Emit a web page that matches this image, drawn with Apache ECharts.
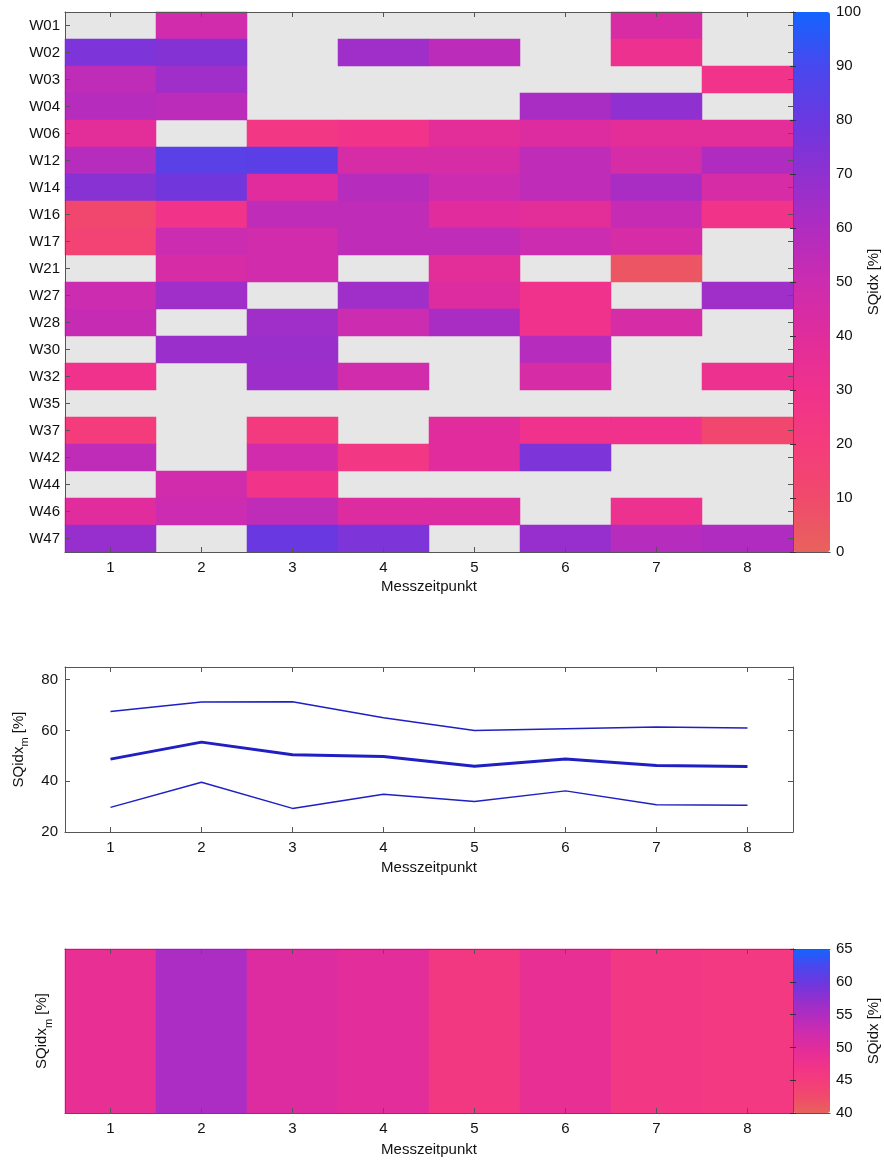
<!DOCTYPE html>
<html>
<head>
<meta charset="utf-8">
<script src="https://cdn.jsdelivr.net/npm/echarts@6/dist/echarts.min.js"></script>
<style>
html,body{margin:0;padding:0;background:#fff;}
#chart{width:884px;height:1162px;}
</style>
</head>
<body>
<div id="chart"></div>
<script>
// ---------- data ----------
const timepoints = ['1', '2', '3', '4', '5', '6', '7', '8'];
const wells = ['W01','W02','W03','W04','W06','W12','W14','W16','W17','W21','W27','W28','W30','W32','W35','W37','W42','W44','W46','W47'];
// SQidx [%] per well (rows) and measurement time point (columns); null = no data
const sqidx = [
  [null, 48, null, null, null, null, 44, null],   // W01
  [75, 73, null, 65, 56, null, 32, null],         // W02
  [55, 65, null, null, null, null, null, 28],     // W03
  [58, 56, null, null, null, 62, 70, null],       // W04
  [38, null, 25, 28, 38, 42, 38, 38],             // W06
  [58, 85, 84, 45, 45, 55, 45, 60],               // W12
  [72, 78, 40, 58, 50, 55, 62, 45],               // W14
  [12, 28, 55, 55, 40, 38, 52, 28],               // W16
  [15, 50, 48, 55, 55, 50, 45, null],             // W17
  [null, 45, 48, null, 38, null, 5, null],        // W21
  [50, 65, null, 65, 42, 30, null, 65],           // W27
  [52, null, 65, 50, 62, 30, 45, null],           // W28
  [null, 67, 67, null, null, 58, null, null],     // W30
  [30, null, 66, 48, null, 45, null, 32],         // W32
  [null, null, null, null, null, null, null, null], // W35
  [20, null, 22, null, 40, 30, 30, 12],           // W37
  [55, null, 48, 25, 40, 75, null, null],         // W42
  [null, 48, 28, null, null, null, null, null],   // W44
  [40, 50, 55, 42, 42, null, 32, null],           // W46
  [68, null, 80, 75, null, 68, 58, 60]            // W47
];
// SQidx_m [%] per time point
const sqidxUpper = [67.5, 71.2, 71.3, 65.0, 60.0, 60.7, 61.4, 61.0];
const sqidxMean  = [48.7, 55.4, 50.4, 49.7, 45.9, 48.8, 46.2, 45.8];
const sqidxLower = [29.7, 39.6, 29.3, 34.9, 32.0, 36.2, 30.7, 30.5];

// ---------- styles ----------
const FONT = "'Liberation Sans', Arial, sans-serif";
const AX = '#555';
const TXT = '#111';
const LINE_BLUE = '#1f1fc4';
const cmap = ['#e8625c','#f04a6c','#f43c7c','#f0328c','#e02c9c','#cc2cb0','#b02cc0','#9030d0','#6a38e0','#4848ee','#1464ff'];

const heatData = [];
sqidx.forEach((row, i) => row.forEach((v, j) => { if (v !== null) heatData.push([j, i, v]); }));
const meanHeatData = sqidxMean.map((v, j) => [j, 0, v]);

const lineAxisStyle = { show: true, lineStyle: { color: AX, width: 1 } };
const tickIn = (len) => ({ show: true, inside: true, length: len, alignWithLabel: true, lineStyle: { color: AX } });
const noLabel = { show: false };
const noSplit = { show: false };
const labelStyle = (m) => ({ color: TXT, fontSize: 15, fontFamily: FONT, margin: m });
const nameStyle = { color: TXT, fontSize: 15, fontFamily: FONT };
const subName = '{a|SQidx}{s|m}{a| [%]}';
const subRich = {
  a: { fontSize: 15, fontFamily: FONT, color: TXT, lineHeight: 24 },
  s: { fontSize: 11, fontFamily: FONT, color: TXT, lineHeight: 24, verticalAlign: 'bottom' }
};

function catX(grid, pos, withLabel, extra) {
  return Object.assign({
    gridIndex: grid, type: 'category', data: timepoints, position: pos,
    axisLine: lineAxisStyle, axisTick: tickIn(5),
    axisLabel: withLabel ? labelStyle(8) : noLabel, splitLine: noSplit, z: 10
  }, extra || {});
}
function edgeX(grid, pos) {
  return { gridIndex: grid, type: 'value', min: 0, max: 1, position: pos,
    axisLine: lineAxisStyle, axisTick: { show: false }, axisLabel: noLabel, splitLine: noSplit, z: 10 };
}

const option = {
  animation: false,
  backgroundColor: '#ffffff',
  textStyle: { fontFamily: FONT },
  grid: [
    { left: 65, top: 12, width: 728, height: 540, show: true, backgroundColor: '#e6e6e6', borderWidth: 0 },
    { left: 793, top: 12, width: 37, height: 540 },
    { left: 65, top: 667, width: 728, height: 165 },
    { left: 65, top: 949, width: 728, height: 164, show: true, backgroundColor: '#e6e6e6', borderWidth: 0 },
    { left: 793, top: 949, width: 37, height: 164 }
  ],
  xAxis: [
    catX(0, 'bottom', true, { name: 'Messzeitpunkt', nameLocation: 'middle', nameGap: 27, nameTextStyle: nameStyle }),
    catX(0, 'top', false),
    edgeX(1, 'bottom'),
    edgeX(1, 'top'),
    catX(2, 'bottom', true, { name: 'Messzeitpunkt', nameLocation: 'middle', nameGap: 28, nameTextStyle: nameStyle }),
    catX(2, 'top', false),
    catX(3, 'bottom', true, { name: 'Messzeitpunkt', nameLocation: 'middle', nameGap: 29, nameTextStyle: nameStyle }),
    catX(3, 'top', false),
    edgeX(4, 'bottom'),
    edgeX(4, 'top')
  ],
  yAxis: [
    { gridIndex: 0, type: 'category', data: wells, inverse: true, position: 'left',
      axisLine: lineAxisStyle, axisTick: tickIn(5), axisLabel: labelStyle(5), splitLine: noSplit, z: 10 },
    { gridIndex: 0, type: 'category', data: wells, inverse: true, position: 'right',
      axisLine: { show: false }, axisTick: tickIn(5), axisLabel: noLabel, splitLine: noSplit, z: 10 },
    { gridIndex: 1, type: 'value', min: 0, max: 100, interval: 10, position: 'right',
      axisLine: lineAxisStyle, axisTick: { show: true, inside: true, length: 3, lineStyle: { color: '#333' } },
      axisLabel: labelStyle(6), splitLine: noSplit, z: 10,
      name: 'SQidx [%]', nameLocation: 'middle', nameGap: 36, nameRotate: 90, nameTextStyle: nameStyle },
    { gridIndex: 1, type: 'value', min: 0, max: 100, interval: 10, position: 'left',
      axisLine: lineAxisStyle, axisTick: { show: true, inside: true, length: 3, lineStyle: { color: '#333' } },
      axisLabel: noLabel, splitLine: noSplit, z: 10 },
    { gridIndex: 2, type: 'value', min: 20, max: 85, interval: 20, position: 'left',
      axisLine: lineAxisStyle, axisTick: { show: true, inside: true, length: 5, lineStyle: { color: AX } },
      axisLabel: Object.assign(labelStyle(7), { showMaxLabel: false }), splitLine: noSplit, z: 10,
      name: subName, nameLocation: 'middle', nameGap: 34, nameRotate: 90, nameTextStyle: { rich: subRich } },
    { gridIndex: 2, type: 'value', min: 20, max: 85, interval: 20, position: 'right',
      axisLine: lineAxisStyle, axisTick: { show: true, inside: true, length: 5, lineStyle: { color: AX } },
      axisLabel: noLabel, splitLine: noSplit, z: 10 },
    { gridIndex: 3, type: 'category', data: [''], position: 'left',
      axisLine: lineAxisStyle, axisTick: { show: false }, axisLabel: noLabel, splitLine: noSplit, z: 10,
      name: subName, nameLocation: 'middle', nameGap: 11, nameRotate: 90, nameTextStyle: { rich: subRich } },
    { gridIndex: 3, type: 'category', data: [''], position: 'right',
      axisLine: { show: false }, axisTick: { show: false }, axisLabel: noLabel, splitLine: noSplit, z: 10 },
    { gridIndex: 4, type: 'value', min: 40, max: 65, interval: 5, position: 'right',
      axisLine: lineAxisStyle, axisTick: { show: true, inside: true, length: 3, lineStyle: { color: '#333' } },
      axisLabel: labelStyle(6), splitLine: noSplit, z: 10,
      name: 'SQidx [%]', nameLocation: 'middle', nameGap: 36, nameRotate: 90, nameTextStyle: nameStyle },
    { gridIndex: 4, type: 'value', min: 40, max: 65, interval: 5, position: 'left',
      axisLine: lineAxisStyle, axisTick: { show: true, inside: true, length: 3, lineStyle: { color: '#333' } },
      axisLabel: noLabel, splitLine: noSplit, z: 10 }
  ],
  visualMap: [
    { type: 'continuous', seriesIndex: 0, dimension: 2, min: 0, max: 100,
      left: 793, top: 12, itemWidth: 37, itemHeight: 540, padding: 0,
      calculable: false, text: null, showLabel: false, hoverLink: false,
      inRange: { color: cmap } },
    { type: 'continuous', seriesIndex: 4, dimension: 2, min: 40, max: 65,
      left: 793, top: 949, itemWidth: 37, itemHeight: 164, padding: 0,
      calculable: false, text: null, showLabel: false, hoverLink: false,
      inRange: { color: cmap } }
  ],
  series: [
    { type: 'heatmap', xAxisIndex: 0, yAxisIndex: 0, data: heatData, itemStyle: { borderWidth: 0 } },
    { type: 'line', xAxisIndex: 4, yAxisIndex: 4, data: sqidxUpper, symbol: 'none',
      lineStyle: { color: LINE_BLUE, width: 1.5 }, itemStyle: { color: LINE_BLUE } },
    { type: 'line', xAxisIndex: 4, yAxisIndex: 4, data: sqidxMean, symbol: 'none',
      lineStyle: { color: LINE_BLUE, width: 3 }, itemStyle: { color: LINE_BLUE } },
    { type: 'line', xAxisIndex: 4, yAxisIndex: 4, data: sqidxLower, symbol: 'none',
      lineStyle: { color: LINE_BLUE, width: 1.5 }, itemStyle: { color: LINE_BLUE } },
    { type: 'heatmap', xAxisIndex: 6, yAxisIndex: 6, data: meanHeatData, itemStyle: { borderWidth: 0 } }
  ]
};

const chart = echarts.init(document.getElementById('chart'), null, { renderer: 'canvas' });
chart.setOption(option);
</script>
</body>
</html>
